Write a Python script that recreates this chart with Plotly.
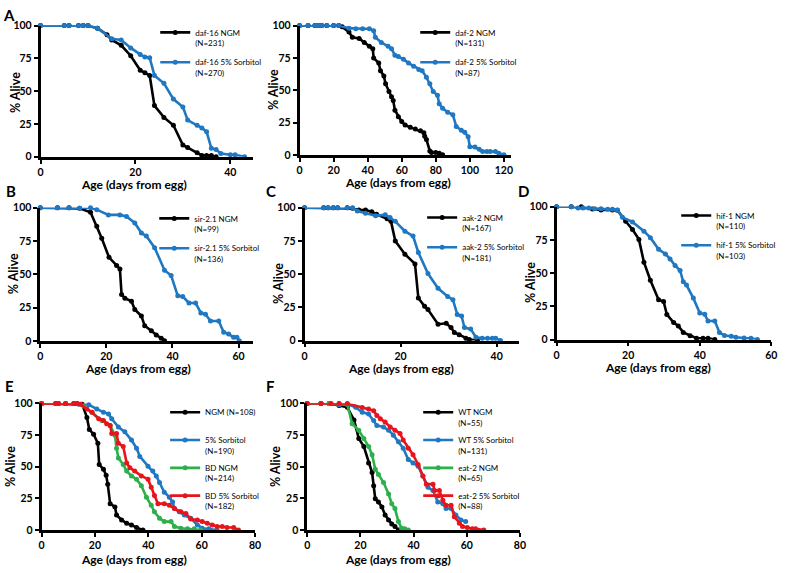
import plotly.graph_objects as go

W, H = 787, 573

# ---------------- DATA ----------------
# Panel A (left): daf-16
a1_ngm_x = [0, 5, 6, 8, 9, 10, 12, 14, 15, 17, 19, 21, 22, 23, 24, 26, 28, 30, 31, 33, 34, 35, 36, 37]
a1_ngm_y = [100, 100, 100, 100, 100, 100, 98, 93, 89, 85, 77, 66, 64, 62, 39, 30, 24, 9, 7, 3, 1, 1, 1, 0]
a1_sor_x = [0, 5, 6, 8, 9, 10, 12, 15, 17, 19, 21, 22, 23, 24, 26, 28, 30, 31, 33, 34, 35, 36, 37, 38, 40, 41, 43]
a1_sor_y = [100, 100, 100, 100, 100, 100, 98, 90, 89, 83, 78, 76, 75.5, 62, 56, 44, 38, 28, 24, 22, 19, 6.5, 5.5, 2.5, 1.5, 1.5, 0]

# Panel A (right): daf-2
a2_ngm_x = [0, 5, 9, 11, 13, 16, 20, 23, 25, 29, 31, 35, 38, 41, 43, 43.5, 46.5, 47.5, 49.5, 50.5, 52.5, 54, 55, 56, 58, 60, 62, 65, 68, 71, 73, 73.5, 74.5, 76.5, 77.5, 80, 82, 84]
a2_ngm_y = [100, 100, 100, 100, 100, 100, 100, 100, 99, 95, 91, 90, 87, 84, 82, 75, 71, 65, 61, 55, 49, 45, 42, 34.5, 29.5, 25.7, 23, 21.4, 20, 18.6, 17, 14.4, 11.8, 3, 1.8, 1.8, 1.3, 0]
a2_sor_x = [0, 5, 9, 11, 13, 16, 20, 23, 29, 33, 37, 41, 43.5, 44.5, 48, 52, 54, 56, 58, 61, 64, 67, 70, 72, 74.5, 76.5, 78.5, 81, 82, 84, 87, 90, 92, 95, 97, 99, 100, 103, 105.5, 107.5, 110, 112, 115, 117, 120]
a2_sor_y = [100, 100, 100, 100, 100, 100, 100, 100, 98, 97.5, 97.5, 97.5, 96, 91, 87, 84, 82, 77, 76, 74, 71, 68.5, 66, 65, 60, 55, 49, 46, 39.5, 36, 33, 31, 22, 19, 17.4, 14, 6.3, 6, 4.3, 2.5, 2.5, 2.5, 2.5, 1.3, 0]

# Panel B: sir-2.1
b_ngm_x = [0, 5.2, 8.7, 11.9, 15.2, 17.1, 18.6, 20.8, 23.1, 24.1, 24.6, 25.6, 27.6, 28.6, 30.6, 31.6, 33.6, 35.1, 36.6, 37.6]
b_ngm_y = [100, 100, 100, 99.5, 96.6, 86, 77, 62.7, 56.6, 54, 34.8, 32, 29.7, 23.5, 18.6, 11.3, 7.6, 4.4, 2, 0]
b_sor_x = [0, 5.2, 8.7, 11.9, 15.2, 17.1, 20.6, 24.1, 26.1, 28.6, 30.6, 32.1, 34.6, 37.6, 39.6, 41.6, 43.1, 45, 47, 48.6, 50, 51.5, 54, 55.5, 57, 58.5, 59.5, 60.2]
b_sor_y = [100, 100, 100, 99.5, 100, 98.5, 94.6, 94.6, 93.4, 88.5, 81, 78.7, 70, 53, 49, 33.8, 33.3, 28.4, 28.4, 21, 19.9, 14.9, 14.9, 6.4, 5.1, 2.7, 2.7, 0]

# Panel C: aak-2
c_ngm_x = [0, 4, 4.9, 6, 6.9, 8.9, 10, 11.3, 12.7, 14, 15, 17.2, 18, 18.9, 20.9, 23, 23.7, 25, 25.7, 27.8, 29.5, 30.5, 31.2, 32.2, 33.6, 34.3, 36]
c_ngm_y = [100, 100, 100, 100, 100, 100, 99.5, 98.3, 98.3, 97, 95, 91.6, 89.7, 75, 65, 57.7, 32, 25.8, 23.3, 12.3, 13, 9.8, 6.1, 4.4, 1.7, 0.7, 0]
c_sor_x = [0, 4, 4.9, 6, 6.9, 8.9, 10, 11, 12.7, 14.8, 16.8, 17.8, 18.9, 20.9, 22.6, 23.7, 25.7, 27.8, 29.8, 30.9, 31.8, 32.7, 33.3, 34.6, 35.7, 37, 38.1, 39.1, 39.8, 40.8]
c_sor_y = [100, 100, 100, 100, 100, 100, 100, 97.5, 95.8, 94, 94.6, 92.6, 89.7, 82.3, 78.6, 66.3, 50.4, 39.3, 33.2, 30.7, 19.7, 18.4, 9.8, 8.6, 2.5, 1.7, 1.7, 1.7, 1.7, 0]

# Panel D: hif-1
d_ngm_x = [0, 4.1, 6.9, 10, 12.4, 15.6, 17, 19.3, 21.2, 23, 24.4, 26.2, 28.5, 29.9, 30.8, 32.7, 34, 35.4, 37.3, 39.1, 40.9, 42.3, 44.2]
d_ngm_y = [100, 100, 100, 98.3, 97.5, 97.5, 97.3, 89, 82.8, 75.4, 58.2, 44.7, 30, 28.7, 18.9, 12.8, 10.3, 5.4, 2.9, 1, 1, 1, 0]
d_sor_x = [0, 4.1, 6, 7.4, 9, 10.6, 12.4, 14.3, 15.6, 17, 18.4, 21.2, 24.4, 26.2, 28.5, 30.4, 31.7, 33.1, 34.5, 35.4, 36.3, 38.2, 40, 41.4, 42.3, 44.2, 45.5, 46.9, 48.8, 50.1, 52.4, 54.3, 56.1]
d_sor_y = [100, 100, 99, 99, 99, 98.5, 98.5, 98, 98, 97.5, 92, 88.5, 81.6, 76.7, 68, 64.4, 60.7, 55.8, 52, 43.5, 41, 31.2, 20, 19, 14, 14, 5.4, 3, 2.5, 1.7, 1.2, 1, 0]

# Panel E: NGM / 5% Sorbitol / BD NGM / BD 5% Sorbitol
e_ngm_x = [0, 5.3, 6.3, 9, 12.1, 13.3, 15.2, 17, 17.9, 19.5, 21.1, 21.6, 23.2, 24.2, 24.8, 25.7, 27.5, 28.1, 30, 31.9, 33.7, 35.6, 38]
e_ngm_y = [100, 100, 100, 100, 100, 100, 99.5, 89, 79.4, 75.8, 68.6, 51.8, 48, 43.3, 36.3, 20.9, 18.3, 11.9, 8, 5.4, 4.1, 2, 0]
e_sor_x = [0, 5.3, 6.3, 9, 12.1, 14, 17.7, 20.7, 23.2, 25.1, 26.3, 28.8, 31.2, 33.7, 35.6, 36.8, 39.9, 41.7, 43, 44.2, 46, 47.9, 49.1, 49.8, 51.6, 53.5, 55.9, 58.4, 60.2, 62.7, 65.8]
e_sor_y = [100, 100, 100, 100, 100, 99.5, 99, 95.6, 93, 91.8, 87.9, 81.4, 77.6, 71.1, 64.7, 58.2, 50.5, 46.6, 42.8, 37.6, 29.9, 26, 22.2, 17, 14.4, 11.9, 9.3, 4.1, 1.5, 1, 0]
e_bd_x = [0, 5.3, 6.3, 9, 12.1, 13.3, 15.8, 18.9, 22.6, 25.7, 27.5, 28.1, 28.8, 30.6, 31.9, 33.7, 35.6, 37.4, 39.3, 41.1, 42.3, 44.2, 46, 48.5, 49.8, 52.2, 54.7, 57.2, 59.6]
e_bd_y = [100, 100, 100, 100, 100, 100, 98, 93, 86.6, 82.7, 75, 64.7, 57, 51.8, 46.6, 42.8, 40.2, 35, 26, 19.6, 14.4, 9.3, 6.7, 6.7, 2.8, 1.5, 1, 1, 0]
e_bds_x = [0, 5.3, 6.3, 9, 12.1, 13.3, 14.6, 17, 18.9, 21.4, 23.2, 24.4, 25.7, 26.3, 28.1, 28.8, 30.6, 31.9, 33.1, 34.9, 37.4, 39.9, 41.1, 42.3, 43.6, 46, 47.9, 49.8, 52.2, 54.1, 55.9, 58.4, 60.2, 62.1, 64, 65.8, 67.7, 69.5, 72, 73.8]
e_bds_y = [100, 100, 100, 100, 100, 100, 99.5, 95.6, 93, 87.9, 86.6, 84, 82.7, 76.3, 76.3, 68.6, 66, 53, 49.2, 46.6, 42.8, 40.2, 33.8, 27.3, 20.9, 20.9, 19.6, 17, 14.4, 13.1, 8.8, 8, 6.7, 5.4, 4.1, 2.8, 2.8, 2, 2, 0]

# Panel F: WT / eat-2
f_wt_x = [0, 5.2, 8.3, 12, 15.1, 17.6, 19.4, 21.3, 23.1, 24.4, 25, 25.6, 26.8, 28.1, 29.3, 30.6, 31.8, 33, 34.3]
f_wt_y = [100, 100, 100, 98.5, 97, 87, 72.4, 66, 53, 45.4, 35, 24.7, 22.2, 18.3, 11.9, 8, 4.9, 2.8, 0]
f_wts_x = [0, 5.2, 8.3, 12, 15.1, 18.2, 20.7, 23.1, 25, 26.2, 28.7, 30.6, 32.4, 34.3, 36.1, 38, 39.8, 41.7, 43.5, 45.4, 47.3, 49.1, 51, 52.2, 54.1, 55.9, 57.8, 59.6]
f_wts_y = [100, 100, 100, 99, 99.5, 97, 93, 91.8, 86.6, 82.7, 81.4, 78.9, 75, 69.8, 64.7, 55.7, 53, 50.5, 42.8, 33.8, 31.2, 22.2, 20.9, 17, 17, 11.9, 8, 6.7]
f_eat_x = [0, 5.2, 8.3, 12, 15.1, 16.9, 19.4, 21.3, 23.1, 24.4, 25.6, 26.8, 28.7, 30.6, 31.8, 33, 34.3, 35.5, 36.7, 38]
f_eat_y = [100, 100, 100, 100, 99.5, 84, 78.9, 72.4, 66, 59.5, 48, 44, 37.6, 28.6, 20.9, 17, 6.7, 1.5, 1, 0]
f_eats_x = [0, 5.2, 9, 12, 15.1, 20.7, 23.1, 25, 26.2, 27.5, 29.3, 31.2, 33, 34.9, 36.1, 38, 39.8, 41.7, 43.5, 44.8, 47.3, 47.9, 49.7, 51, 52.2, 54.1, 55.3, 57.2, 58.4, 60.2, 62.1, 63.3, 66.4]
f_eats_y = [100, 100, 100, 100, 100, 96.9, 95.6, 94.3, 90.5, 87.9, 85.3, 81.4, 78.9, 76.3, 71.1, 64.7, 59.5, 51.8, 42.8, 36.3, 36.3, 31.2, 31.2, 23.5, 19.6, 19.6, 10.6, 5.4, 2.8, 2, 1, 1, 0]

y_ticks = [0, 25, 50, 75, 100]
x_title = "Age (days from egg)"
y_title = "% Alive"

# ---------------- STYLE ----------------
BLACK, BLUE, GREEN, RED = "#000000", "#1F78C1", "#2DB04B", "#E8141C"
FONT = "Lato"

# panel layout in pixels
panels = [
    dict(letter="A", lx=6.5, ly=9, x0=38, xmax=44.8, xend=253, ytop=20, ybot=154,
         xt=(133, 182), yt=(12, 88), leg=(154, 15), gap=6,
         series=[("daf-16 NGM<br>(N=231)", a1_ngm_x, a1_ngm_y, BLACK),
                 ("daf-16 5% Sorbitol<br>(N=270)", a1_sor_x, a1_sor_y, BLUE)]),
    dict(letter=None, x0=300, xmax=124, xend=513.6, ytop=20, ybot=152,
         xt=(400, 180), yt=(273, 85), leg=(417, 15), gap=6,
         series=[("daf-2 NGM<br>(N=131)", a2_ngm_x, a2_ngm_y, BLACK),
                 ("daf-2 5% Sorbitol<br>(N=87)", a2_sor_x, a2_sor_y, BLUE)]),
    dict(letter="B", lx=8, ly=189, x0=37.7, xmax=64.4, xend=253, ytop=206, ybot=342,
         xt=(137, 370), yt=(10, 273), leg=(153, 205), gap=6,
         series=[("sir-2.1 NGM<br>(N=99)", b_ngm_x, b_ngm_y, BLACK),
                 ("sir-2.1 5% Sorbitol<br>(N=136)", b_sor_x, b_sor_y, BLUE)]),
    dict(letter="C", lx=271, ly=189, x0=305, xmax=44.6, xend=521.7, ytop=206, ybot=341.7,
         xt=(403, 370), yt=(278, 283), leg=(424, 204), gap=6,
         series=[("aak-2 NGM<br>(N=167)", c_ngm_x, c_ngm_y, BLACK),
                 ("aak-2 5% Sorbitol<br>(N=181)", c_sor_x, c_sor_y, BLUE)]),
    dict(letter="D", lx=527, ly=189, x0=560, xmax=60.02, xend=777.3, ytop=205, ybot=340.7,
         xt=(663, 369), yt=(533, 282), leg=(681, 202), gap=6,
         series=[("hif-1 NGM<br>(N=110)", d_ngm_x, d_ngm_y, BLACK),
                 ("hif-1 5% Sorbitol<br>(N=103)", d_sor_x, d_sor_y, BLUE)]),
    dict(letter="E", lx=7, ly=388, x0=39, xmax=80.02, xend=255, ytop=406, ybot=535.3,
         xt=(133, 565), yt=(7, 470), leg=(164, 403), gap=4,
         series=[("NGM (N=108)<br> ", e_ngm_x, e_ngm_y, BLACK),
                 ("5% Sorbitol<br>(N=190)", e_sor_x, e_sor_y, BLUE),
                 ("BD NGM<br>(N=214)", e_bd_x, e_bd_y, GREEN),
                 ("BD 5% Sorbitol<br>(N=182)", e_bds_x, e_bds_y, RED)]),
    dict(letter="F", lx=271, ly=388, x0=307.7, xmax=80.02, xend=523, ytop=406, ybot=535.3,
         xt=(400, 565), yt=(275, 470), leg=(420, 403), gap=4,
         series=[("WT NGM<br>(N=55)", f_wt_x, f_wt_y, BLACK),
                 ("WT 5% Sorbitol<br>(N=131)", f_wts_x, f_wts_y, BLUE),
                 ("eat-2 NGM<br>(N=65)", f_eat_x, f_eat_y, GREEN),
                 ("eat-2 5% Sorbitol<br>(N=88)", f_eats_x, f_eats_y, RED)]),
]

fig = go.Figure()
annotations = []
layout_updates = {}

for i, p in enumerate(panels):
    n = i + 1
    xa = "x" if n == 1 else f"x{n}"
    ya = "y" if n == 1 else f"y{n}"
    xkey = "xaxis" if n == 1 else f"xaxis{n}"
    ykey = "yaxis" if n == 1 else f"yaxis{n}"
    lkey = "legend" if n == 1 else f"legend{n}"
    for j, (name, xs, ys, col) in enumerate(p["series"]):
        fig.add_trace(go.Scatter(
            x=xs, y=ys, name=name, mode="lines+markers",
            line=dict(color=col, width=2.6),
            marker=dict(color=col, size=5, symbol="circle"),
            xaxis=xa, yaxis=ya, legend=lkey, legendgroup=f"g{n}_{j}",
            cliponaxis=False,
        ))
    layout_updates[xkey] = dict(
        domain=[p["x0"] / W, p["xend"] / W], range=[0, p["xmax"]], anchor=ya,
        showgrid=False, zeroline=False, showline=True, linecolor="black", linewidth=2.6,
        ticks="outside", ticklen=4, tickwidth=2, tickcolor="black", dtick=20, tick0=0,
        tickfont=dict(family=FONT, size=10.5, color="black", weight="bold"),
    )
    layout_updates[ykey] = dict(
        domain=[1 - p["ybot"] / H, 1 - p["ytop"] / H], range=[0, 100], anchor=xa,
        showgrid=False, zeroline=False, showline=True, linecolor="black", linewidth=2.6,
        ticks="outside", ticklen=4, tickwidth=2, tickcolor="black", tickvals=y_ticks,
        tickfont=dict(family=FONT, size=10.5, color="black", weight="bold"),
    )
    lx, ly = p["leg"]
    layout_updates[lkey] = dict(
        x=lx / W, y=1 - ly / H, xanchor="left", yanchor="top",
        bgcolor="rgba(0,0,0,0)", borderwidth=0, valign="top",
        tracegroupgap=p["gap"], itemwidth=30,
        font=dict(family=FONT, size=8, color="black"),
    )
    annotations.append(dict(text=x_title, x=p["xt"][0] / W, y=1 - p["xt"][1] / H,
                            xref="paper", yref="paper", showarrow=False,
                            xanchor="center", yanchor="middle",
                            font=dict(family=FONT, size=12, color="black", weight="bold")))
    annotations.append(dict(text=y_title, x=p["yt"][0] / W, y=1 - p["yt"][1] / H,
                            xref="paper", yref="paper", showarrow=False, textangle=-90,
                            xanchor="center", yanchor="middle",
                            font=dict(family=FONT, size=12.5, color="black", weight="bold")))
    if p.get("letter"):
        annotations.append(dict(text=p["letter"], x=p["lx"] / W, y=1 - p["ly"] / H,
                                xref="paper", yref="paper", showarrow=False,
                                xanchor="center", yanchor="middle",
                                font=dict(family=FONT, size=15, color="black", weight="bold")))

fig.update_layout(
    width=W, height=H, autosize=False,
    margin=dict(l=0, r=0, t=0, b=0),
    paper_bgcolor="white", plot_bgcolor="white",
    showlegend=True, annotations=annotations,
    **layout_updates,
)

fig.write_html("out.html", config={"displayModeBar": False},
               post_script="document.body.style.margin='0';")
